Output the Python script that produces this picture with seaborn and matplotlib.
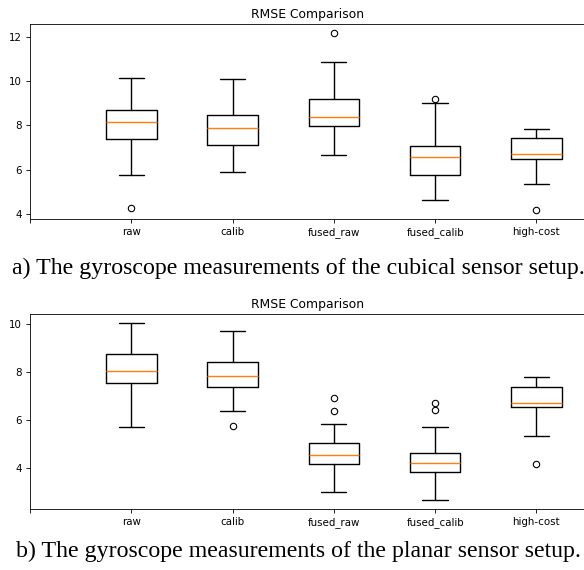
import matplotlib
matplotlib.use('Agg')
import matplotlib.pyplot as plt
from matplotlib.ticker import MultipleLocator
import seaborn as sns

labels = ['raw', 'calib', 'fused_raw', 'fused_calib', 'high-cost']

# (a) cubical sensor setup: box statistics
a_whislo = [5.78, 5.89, 6.67, 4.63, 5.35]
a_q1 = [7.38, 7.12, 7.96, 5.76, 6.50]
a_med = [8.16, 7.87, 8.38, 6.57, 6.70]
a_q3 = [8.68, 8.46, 9.18, 7.08, 7.42]
a_whishi = [10.13, 10.08, 10.87, 9.01, 7.84]
a_fliers = [[4.28], [], [12.17], [9.18], [4.18]]

# (b) planar sensor setup
b_whislo = [5.72, 6.37, 3.02, 2.67, 5.32]
b_q1 = [7.53, 7.38, 4.18, 3.83, 6.54]
b_med = [8.05, 7.84, 4.56, 4.21, 6.70]
b_q3 = [8.73, 8.42, 5.03, 4.62, 7.38]
b_whishi = [10.03, 9.68, 5.82, 5.69, 7.80]
b_fliers = [[], [5.75], [6.89, 6.37], [6.69, 6.41], [4.18]]

captions = ['a) The gyroscope measurements of the cubical sensor setup.',
            'b) The gyroscope measurements of the planar sensor setup.']

sns.set_theme(style='ticks', rc={
    'axes.edgecolor': 'black', 'axes.linewidth': 0.6,
    'xtick.color': 'black', 'ytick.color': 'black',
    'text.color': 'black', 'axes.labelcolor': 'black',
    'xtick.major.size': 2.6, 'ytick.major.size': 2.6,
    'xtick.major.width': 0.6, 'ytick.major.width': 0.6,
    'xtick.labelsize': 7.4, 'ytick.labelsize': 7.4,
})
plt.rcParams['font.family'] = ['DejaVu Sans']


def make_stats(lo, q1, med, q3, hi, fl):
    return [dict(whislo=lo[i], q1=q1[i], med=med[i], q3=q3[i], whishi=hi[i],
                 fliers=fl[i], label=labels[i]) for i in range(len(labels))]


fig = plt.figure(figsize=(5.84, 5.70), dpi=100)
W, H = 584, 570
panels = [
    (make_stats(a_whislo, a_q1, a_med, a_q3, a_whishi, a_fliers), 24, 219),
    (make_stats(b_whislo, b_q1, b_med, b_q3, b_whishi, b_fliers), 314, 509),
]

for stats, top, bottom in panels:
    ax = fig.add_axes([30 / W, 1 - bottom / H, 555 / W, (bottom - top) / H])
    ax.bxp(stats, positions=range(1, 6), widths=0.5,
           boxprops=dict(color='black', linewidth=1),
           whiskerprops=dict(color='black', linewidth=1),
           capprops=dict(color='black', linewidth=1),
           medianprops=dict(color='#ff7f0e', linewidth=1),
           flierprops=dict(marker='o', markerfacecolor='none', markeredgecolor='black',
                           markersize=4.6, markeredgewidth=0.8))
    ax.set_xlim(0, 5.48)
    ax.set_xticks(range(0, 6))
    ax.set_xticklabels([''] + labels)
    ax.yaxis.set_major_locator(MultipleLocator(2))
    ax.set_title('RMSE Comparison', fontsize=8.9, pad=4.4)

fig.text(298 / W, 1 - 274 / H, captions[0], ha='center', va='baseline',
         fontsize=17.2, family='Liberation Serif')
fig.text(298 / W, 1 - 557 / H, captions[1], ha='center', va='baseline',
         fontsize=17.2, family='Liberation Serif')

fig.savefig('out.png', dpi=100)
